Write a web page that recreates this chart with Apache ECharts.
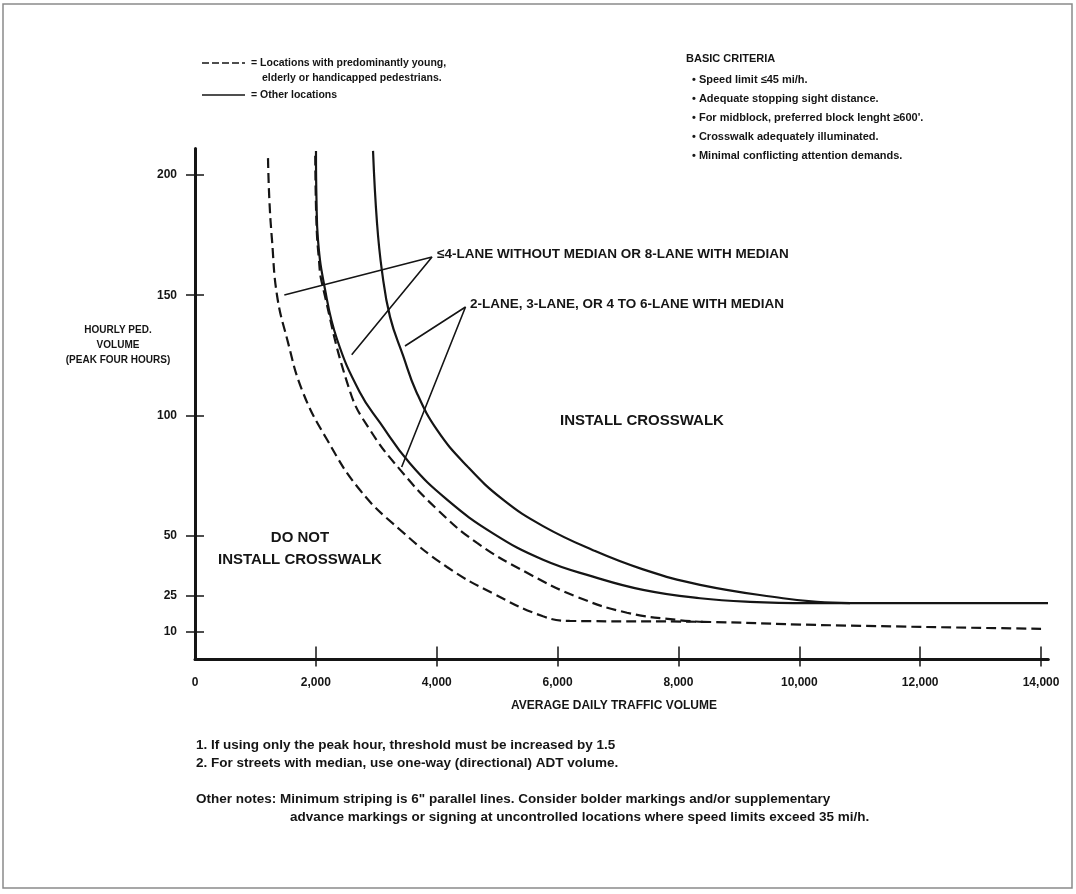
<!DOCTYPE html>
<html><head><meta charset="utf-8">
<script src="https://cdn.jsdelivr.net/npm/echarts@6/dist/echarts.min.js"></script>
<style>html,body{margin:0;padding:0;background:#fff}#c{width:1076px;height:894px}</style>
</head><body><div id="c"></div>
<script>
// ---- data ----
const xTickValues = [0, 2000, 4000, 6000, 8000, 10000, 12000, 14000];
const yTickValues = [10, 25, 50, 100, 150, 200];

// dashed = locations with predominantly young, elderly or handicapped pedestrians
const dashedOuter = [[1208,207],[1230,190],[1274,173],[1357,150],[1522,132],[1780,110],[2184,90],[2730,69],[3392,52.5],[4170,37],[4931,26],[5759,16.5],[6200,14.6],[8400,14.2],[10300,12.9],[14000,11.3]];
const dashedInner = [[1990,208],[2010,180],[2050,165],[2101,155],[2565,110],[2896,94],[3392,77.5],[4005,61],[4667,47],[5494,34.6],[6321,24.6],[7149,18],[7976,15],[8400,14.2]];
// solid = other locations
const solidInner = [[2002,210],[2010,190],[2035,173],[2151,152.5],[2350,131.7],[2720,110],[3061,97],[3558,80],[4170,65],[4931,51],[5759,40],[6586,33],[7414,27.5],[8357,24],[9184,22.5],[10177,22],[14115,22]];
const solidOuter = [[2946,210],[3012,180],[3094,160],[3227,141],[3442,125],[3660,110],[4005,94],[4501,79],[5097,65],[5759,54],[6586,44],[7414,36],[8357,29.6],[9730,24],[10293,22.5],[10839,22]];

// leader lines (data units): end -> label tip -> end
const leaderA = [[1478,150.1],[3922,165.9],[2593,125.2]];
const leaderB = [[3475,128.9],[4476,145.1],[3420,78.6]];

const labelA = '\u22644-LANE WITHOUT MEDIAN OR 8-LANE WITH MEDIAN';
const labelB = '2-LANE, 3-LANE, OR 4 TO 6-LANE WITH MEDIAN';
const criteria = ['BASIC CRITERIA', '\u2022 Speed limit \u226445 mi/h.', '\u2022 Adequate stopping sight distance.', "\u2022 For midblock, preferred block lenght \u2265600'.", '\u2022 Crosswalk adequately illuminated.', '\u2022 Minimal conflicting attention demands.'];
const notes = ['1. If using only the peak hour, threshold must be increased by 1.5', '2. For streets with median, use one-way (directional) ADT volume.'];
const otherNotes = ['Other notes: Minimum striping is 6" parallel lines. Consider bolder markings and/or supplementary', 'advance markings or signing at uncontrolled locations where speed limits exceed 35 mi/h.'];

// ---- chart ----
const FF = '"Liberation Sans", Arial, sans-serif';
const INK = '#151515';
const chart = echarts.init(document.getElementById('c'));

function txt(text, x, y, size, weight, align) {
  return { type: 'text', x: x, y: y, silent: true,
    style: { text: text, font: (weight || 'bold') + ' ' + size + 'px ' + FF, fill: INK, align: align || 'left', verticalAlign: 'middle' } };
}

const graphics = [
  { type: 'rect', shape: { x: 3, y: 4, width: 1069, height: 884 }, style: { fill: 'none', stroke: '#8a8a8a', lineWidth: 1.5 }, silent: true },
  // legend samples
  { type: 'line', shape: { x1: 202, y1: 63, x2: 245, y2: 63 }, style: { stroke: INK, lineWidth: 1.6, lineDash: [7, 3] }, silent: true },
  { type: 'line', shape: { x1: 202, y1: 95, x2: 245, y2: 95 }, style: { stroke: INK, lineWidth: 1.6 }, silent: true },
  txt('= Locations with predominantly young,', 251, 63, 10.5),
  txt('elderly or handicapped pedestrians.', 262, 78, 10.5),
  txt('= Other locations', 251, 95, 10.5),
  txt(labelA, 437, 254, 13.5),
  txt(labelB, 470, 304, 13.5),
  txt('INSTALL CROSSWALK', 560, 421, 15),
  txt('DO NOT', 300, 538, 15, 'bold', 'center'),
  txt('INSTALL CROSSWALK', 300, 560, 15, 'bold', 'center'),
  txt('HOURLY PED.', 118, 330, 10, 'bold', 'center'),
  txt('VOLUME', 118, 345, 10, 'bold', 'center'),
  txt('(PEAK FOUR HOURS)', 118, 360, 10, 'bold', 'center'),
  txt('AVERAGE DAILY TRAFFIC VOLUME', 614, 706, 12, 'bold', 'center'),
  txt(notes[0], 196, 745, 13.5),
  txt(notes[1], 196, 763, 13.5),
  txt(otherNotes[0], 196, 799, 13.5),
  txt(otherNotes[1], 290, 817, 13.5)
];
const critY = [59, 80, 99, 118, 137, 156];
criteria.forEach((t, i) => graphics.push(txt(t, i === 0 ? 686 : 692, critY[i], 11)));

function curve(data, dashed) {
  return { type: 'line', data: data, showSymbol: false, silent: true, smooth: 0.45,
    lineStyle: { color: INK, width: 2.2, type: dashed ? [10, 5] : 'solid' }, z: 3 };
}
function leader(data) {
  return { type: 'line', data: data, showSymbol: false, silent: true, smooth: false,
    lineStyle: { color: INK, width: 1.6 }, z: 2 };
}

const axisFont = { fontFamily: FF, fontWeight: 'bold', fontSize: 12, color: INK };

chart.setOption({
  animation: false,
  backgroundColor: '#fff',
  grid: { left: 195, top: 148.5, width: 853.3, height: 511.1 },
  xAxis: [
    { type: 'value', min: 0, max: 14120, position: 'bottom',
      axisLine: { show: true, onZero: false, lineStyle: { color: INK, width: 3 } },
      axisTick: { show: true, inside: false, length: 7, customValues: xTickValues.slice(1), lineStyle: { color: INK, width: 1.5 } },
      axisLabel: { show: true, margin: 17, customValues: xTickValues, ...axisFont,
        formatter: v => v === 0 ? '0' : v.toLocaleString('en-US') },
      splitLine: { show: false } },
    { type: 'value', min: 0, max: 14120, position: 'bottom',
      axisLine: { show: false, onZero: false },
      axisTick: { show: true, inside: true, length: 13, customValues: xTickValues.slice(1), lineStyle: { color: INK, width: 1.5 } },
      axisLabel: { show: false }, splitLine: { show: false } }
  ],
  yAxis: [
    { type: 'value', min: -1.5, max: 211, position: 'left',
      axisLine: { show: true, onZero: false, lineStyle: { color: INK, width: 3 } },
      axisTick: { show: true, inside: false, length: 9, customValues: yTickValues, lineStyle: { color: INK, width: 1.5 } },
      axisLabel: { show: true, margin: 18, customValues: yTickValues, ...axisFont },
      splitLine: { show: false } },
    { type: 'value', min: -1.5, max: 211, position: 'left',
      axisLine: { show: false, onZero: false },
      axisTick: { show: true, inside: true, length: 9, customValues: yTickValues, lineStyle: { color: INK, width: 1.5 } },
      axisLabel: { show: false }, splitLine: { show: false } }
  ],
  graphic: graphics,
  series: [
    curve(dashedOuter, true),
    curve(dashedInner, true),
    curve(solidInner, false),
    curve(solidOuter, false),
    leader(leaderA),
    leader(leaderB)
  ]
});
</script></body></html>
